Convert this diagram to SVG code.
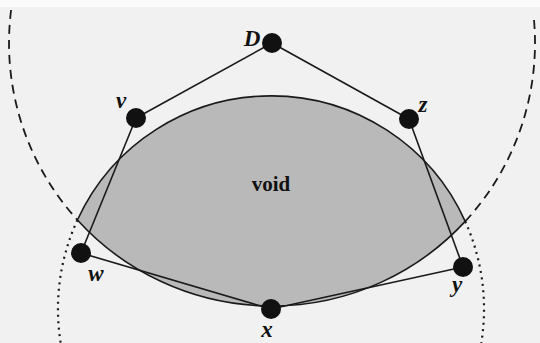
<svg xmlns="http://www.w3.org/2000/svg" width="540" height="343" viewBox="0 0 540 343">
  <style>
    .bg { fill: #f1f1f1; }
    .void { fill: #b9b9b9; stroke: #1a1a1a; stroke-width: 1.6; }
    .dashed { fill: none; stroke: #1a1a1a; stroke-width: 1.8; stroke-dasharray: 9 6; }
    .dotted { fill: none; stroke: #1a1a1a; stroke-width: 2.2; stroke-dasharray: 2 4.5; }
    .edge { stroke: #1a1a1a; stroke-width: 1.6; fill: none; }
    .node { fill: #111; }
    .lbl { font-family: "Liberation Serif", "Times New Roman", serif; font-weight: bold; font-style: italic; font-size: 23px; fill: #111; }
    .vlbl { font-family: "Liberation Serif", "Times New Roman", serif; font-weight: bold; font-size: 21px; fill: #111; }
  </style>
  <rect class="bg" x="0" y="0" width="540" height="343"/>
  <rect x="0" y="0" width="540" height="7" fill="#fbfbfb"/>
  <g id="void">
    <path class="void" d="M77.4,220 A213,213 0 0 1 465.2,221.4 A263,263 0 0 1 77.4,220 Z"/>
    <text class="vlbl" x="271" y="191" text-anchor="middle">void</text>
  </g>
  <g id="circles">
    <path class="dashed" d="M11.1,10 A263,263 0 0 0 77.4,220"/>
    <path class="dashed" d="M465.2,221.4 A263,263 0 0 0 534,20"/>
    <path class="dotted" d="M77.4,220 A213,213 0 0 0 60.7,343"/>
    <path class="dotted" d="M465.2,221.4 A213,213 0 0 1 481.3,343"/>
  </g>
  <g id="connectors">
    <line class="edge" x1="272" y1="43" x2="136" y2="118"/>
    <line class="edge" x1="272" y1="43" x2="409" y2="119"/>
    <line class="edge" x1="136" y1="118" x2="81" y2="253"/>
    <line class="edge" x1="409" y1="119" x2="463" y2="267"/>
    <line class="edge" x1="81" y1="253" x2="271" y2="309"/>
    <line class="edge" x1="271" y1="309" x2="463" y2="267"/>
  </g>
  <g id="node-D">
    <circle class="node" cx="272" cy="43" r="10"/>
    <text class="lbl" x="252" y="46" text-anchor="middle">D</text>
  </g>
  <g id="node-v">
    <circle class="node" cx="136" cy="118" r="10"/>
    <text class="lbl" x="121" y="108" text-anchor="middle">v</text>
  </g>
  <g id="node-z">
    <circle class="node" cx="409" cy="119" r="10"/>
    <text class="lbl" x="423" y="112" text-anchor="middle">z</text>
  </g>
  <g id="node-w">
    <circle class="node" cx="81" cy="253" r="10"/>
    <text class="lbl" x="96" y="281" text-anchor="middle">w</text>
  </g>
  <g id="node-y">
    <circle class="node" cx="463" cy="267" r="10"/>
    <text class="lbl" x="457" y="292" text-anchor="middle">y</text>
  </g>
  <g id="node-x">
    <circle class="node" cx="271" cy="309" r="10"/>
    <text class="lbl" x="267" y="337" text-anchor="middle">x</text>
  </g>
</svg>
